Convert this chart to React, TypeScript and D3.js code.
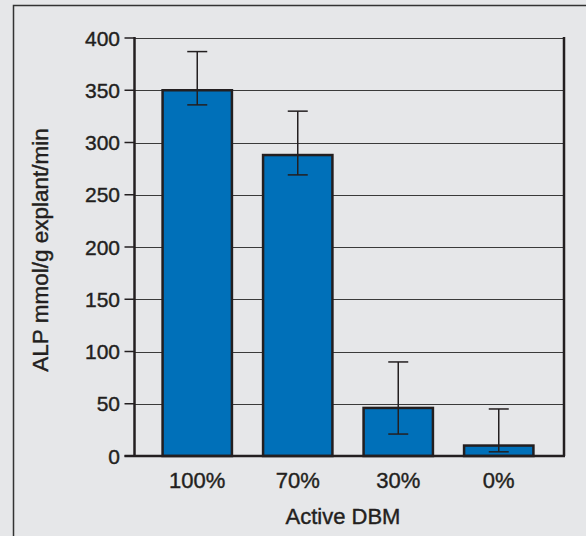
import React, { useEffect, useRef } from "react";
import * as d3 from "d3";

const categories = ["100%", "70%", "30%", "0%"];
const values = [350, 288, 46, 10];
const errUpper = [387, 330, 90, 45];
const errLower = [336, 269, 21, 4];
const yTicks = [0, 50, 100, 150, 200, 250, 300, 350, 400];

const W = 586;
const H = 536;
const bg = "#e6e7e9";
const dark = "#231f20";
const barColor = "#0070b9";
const font = "'Liberation Sans', Arial, Helvetica, sans-serif";

const App = () => {
  const ref = useRef(null);

  useEffect(() => {
    const svg = d3.select(ref.current);
    svg.selectAll("*").remove();

    const left = 134.5;
    const right = 564;
    const top = 38;
    const bottom = 456;

    svg.append("rect").attr("width", W).attr("height", H).attr("fill", bg);
    svg
      .append("rect")
      .attr("x", 13.5)
      .attr("y", 5.5)
      .attr("width", W + 20)
      .attr("height", H + 20)
      .attr("fill", "none")
      .attr("stroke", "#333")
      .attr("stroke-width", 1.5);

    const y = d3.scaleLinear().domain([0, 400]).range([bottom, top]);
    const x = d3.scaleBand().domain(categories).range([147, 549]).paddingInner(0.31).paddingOuter(0.155);

    // gridlines
    svg
      .append("g")
      .selectAll("line")
      .data(yTicks.filter((d) => d > 0))
      .enter()
      .append("line")
      .attr("x1", left)
      .attr("x2", right)
      .attr("y1", (d) => Math.round(y(d)) + 0.5)
      .attr("y2", (d) => Math.round(y(d)) + 0.5)
      .attr("stroke", "#3a3a3a")
      .attr("stroke-width", 1.2);

    // right border
    svg
      .append("line")
      .attr("x1", right)
      .attr("x2", right)
      .attr("y1", top - 1)
      .attr("y2", bottom)
      .attr("stroke", dark)
      .attr("stroke-width", 2.5);

    // bars
    svg
      .append("g")
      .selectAll("rect")
      .data(values)
      .enter()
      .append("rect")
      .attr("x", (d, i) => x(categories[i]))
      .attr("y", (d) => y(d))
      .attr("width", x.bandwidth())
      .attr("height", (d) => y(0) - y(d))
      .attr("fill", barColor)
      .attr("stroke", dark)
      .attr("stroke-width", 2.5);

    // error bars
    const eb = svg.append("g").attr("stroke", dark).attr("stroke-width", 1.5);
    values.forEach((v, i) => {
      const cx = x(categories[i]) + x.bandwidth() / 2;
      eb.append("line").attr("x1", cx).attr("x2", cx).attr("y1", y(errUpper[i])).attr("y2", y(errLower[i]));
      [errUpper[i], errLower[i]].forEach((e) => {
        eb.append("line")
          .attr("x1", cx - 10)
          .attr("x2", cx + 10)
          .attr("y1", y(e))
          .attr("y2", y(e));
      });
    });

    // axes
    svg
      .append("line")
      .attr("x1", left)
      .attr("x2", left)
      .attr("y1", top - 1)
      .attr("y2", bottom + 1)
      .attr("stroke", dark)
      .attr("stroke-width", 2.5);
    svg
      .append("line")
      .attr("x1", left - 10)
      .attr("x2", right + 1)
      .attr("y1", bottom)
      .attr("y2", bottom)
      .attr("stroke", dark)
      .attr("stroke-width", 2.5);

    const textStyle = (sel, size) =>
      sel
        .attr("fill", dark)
        .attr("stroke", dark)
        .attr("stroke-width", 0.4)
        .style("font-family", font)
        .style("font-size", size);

    const yAxis = svg.append("g");
    yAxis
      .selectAll("line")
      .data(yTicks)
      .enter()
      .append("line")
      .attr("x1", left - 10)
      .attr("x2", left)
      .attr("y1", (d) => y(d))
      .attr("y2", (d) => y(d))
      .attr("stroke", dark)
      .attr("stroke-width", 1.5);
    yAxis
      .selectAll("text")
      .data(yTicks)
      .enter()
      .append("text")
      .attr("x", 120)
      .attr("y", (d) => y(d))
      .attr("dy", "0.36em")
      .attr("text-anchor", "end")
      .call(textStyle, "21px")
      .text((d) => d);

    svg
      .append("g")
      .selectAll("text")
      .data(categories)
      .enter()
      .append("text")
      .attr("x", (d) => x(d) + x.bandwidth() / 2)
      .attr("y", 488)
      .attr("text-anchor", "middle")
      .call(textStyle, "22px")
      .text((d) => d);

    svg
      .append("text")
      .attr("x", 343)
      .attr("y", 524)
      .attr("text-anchor", "middle")
      .call(textStyle, "22px")
      .text("Active DBM");

    svg
      .append("text")
      .attr("transform", "translate(48,250) rotate(-90)")
      .attr("text-anchor", "middle")
      .call(textStyle, "22.5px")
      .text("ALP mmol/g explant/min");
  }, []);

  return <svg ref={ref} width={W} height={H} style={{ position: "absolute", left: 0, top: 0 }}></svg>;
};

export default App;
